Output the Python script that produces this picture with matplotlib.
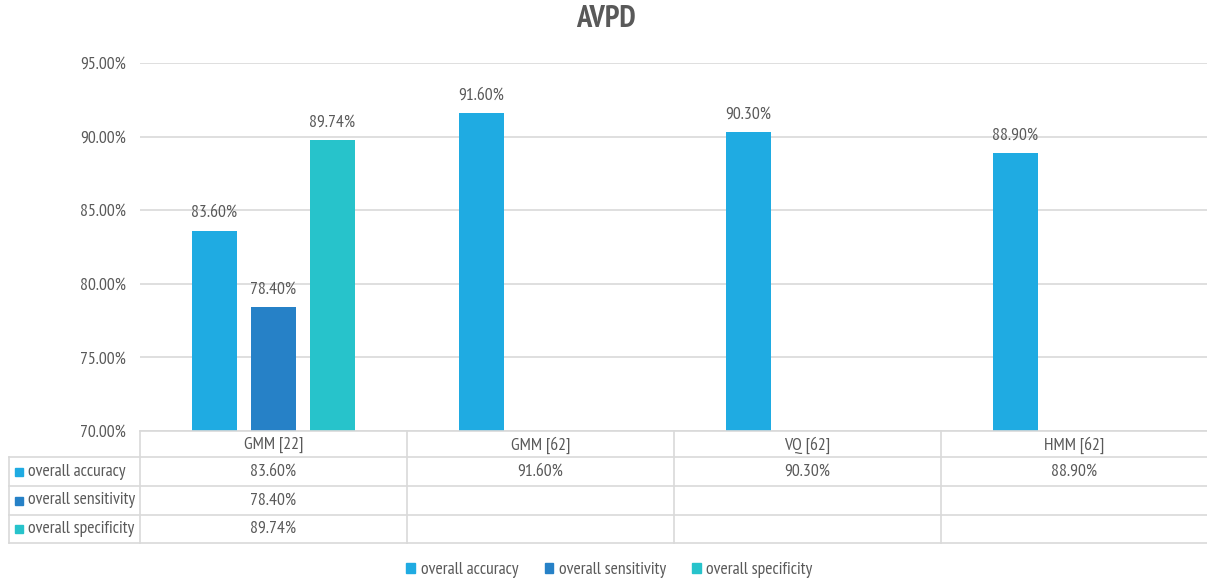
import numpy as np
import matplotlib
matplotlib.use("Agg")
import matplotlib.pyplot as plt
from matplotlib.patches import Rectangle

plt.rcParams['font.family'] = ['PT Sans Narrow', 'DejaVu Sans']

categories = ['GMM [22]', 'GMM [62]', 'VQ [62]', 'HMM [62]']
series_names = ['overall accuracy', 'overall sensitivity', 'overall specificity']
accuracy = [83.60, 91.60, 90.30, 88.90]
sensitivity = [78.40, np.nan, np.nan, np.nan]
specificity = [89.74, np.nan, np.nan, np.nan]
colors = ['#1FABE2', '#2681C7', '#27C3CB']
yticks = [70, 75, 80, 85, 90, 95]

W, H = 1207, 581
fig = plt.figure(figsize=(W / 100, H / 100), dpi=100)
fs = 12.7

# main plot area in pixel terms
left, right, top, bottom = 140, 1208, 63, 431
ax = fig.add_axes([left / W, 1 - bottom / H, (right - left) / W, (bottom - top) / H])

txt = '#595959'
grid = '#D9D9D9'
x = np.arange(len(categories))
bw = 0.172
step = 0.221
data = [accuracy, sensitivity, specificity]
for i, vals in enumerate(data):
    pos = x + (i - 1) * step
    v = np.array(vals, dtype=float)
    ok = ~np.isnan(v)
    ax.bar(pos[ok], v[ok] - 70, bottom=70, width=bw, color=colors[i], zorder=3)
    for p, val in zip(pos[ok], v[ok]):
        ax.text(p, val + 0.65, f'{val:.2f}%', ha='center', va='bottom',
                fontsize=fs, color=txt)

ax.set_xlim(-0.5, len(categories) - 0.5)
ax.set_ylim(70, 95)
ax.set_yticks(yticks)
ax.set_yticklabels([f'{t:.2f}%' for t in yticks], fontsize=fs, color=txt)
ax.yaxis.grid(True, color=grid, linewidth=1.2, zorder=0)
ax.tick_params(axis='y', length=0, pad=10)
ax.set_xticks([])
for s in ax.spines.values():
    s.set_visible(False)

fig.text(0.502, 1 - 19 / H, 'AVPD', ha='center', va='center', fontsize=22,
         fontweight='bold', color=txt)

# data table under the plot
t_left, t_top, t_bot = 9, 431, 543
tab = fig.add_axes([t_left / W, 1 - t_bot / H, (right - t_left) / W, (t_bot - t_top) / H])
px = (right - left) / len(categories)
x0 = -0.5 - (left - t_left) / px
tab.set_xlim(x0, len(categories) - 0.5)
row_edges = [0, 26, 55, 84, 112]
tab.set_ylim(112, 0)
tab.axis('off')
lc = '#D9D9D9'
tab.plot([-0.5, len(categories) - 0.5], [0, 0], color=lc, lw=1.2, clip_on=False)
for r in row_edges[1:]:
    tab.plot([x0, len(categories) - 0.5], [r, r], color=lc, lw=1.2, clip_on=False)
tab.plot([x0, x0], [row_edges[1], row_edges[-1]], color=lc, lw=1.2, clip_on=False)
for c in range(len(categories) + 1):
    tab.plot([c - 0.5, c - 0.5], [0, row_edges[-1]], color=lc, lw=1.2, clip_on=False)

for c, name in enumerate(categories):
    tab.text(c, (row_edges[0] + row_edges[1]) / 2 + 1, name, ha='center', va='center',
             fontsize=fs, color=txt)
for i, (name, vals) in enumerate(zip(series_names, data)):
    yc = (row_edges[i + 1] + row_edges[i + 2]) / 2
    tab.add_patch(Rectangle((x0 + 0.023, yc - 4), 0.029, 8, color=colors[i], clip_on=False))
    tab.text(x0 + 0.07, yc, name, ha='left', va='center', fontsize=fs, color=txt)
    for c, val in enumerate(vals):
        if not np.isnan(val):
            tab.text(c, yc, f'{val:.2f}%', ha='center', va='center', fontsize=fs, color=txt)

# legend along the bottom
handles = [Rectangle((0, 0), 1, 1, color=col) for col in colors]
fig.legend(handles, series_names, loc='center', bbox_to_anchor=(0.505, 1 - 570 / H),
           ncol=3, frameon=False, fontsize=fs, handlelength=0.5, handleheight=0.5,
           handletextpad=0.3, columnspacing=1.5, labelcolor=txt)

fig.savefig('out.png', dpi=100)
